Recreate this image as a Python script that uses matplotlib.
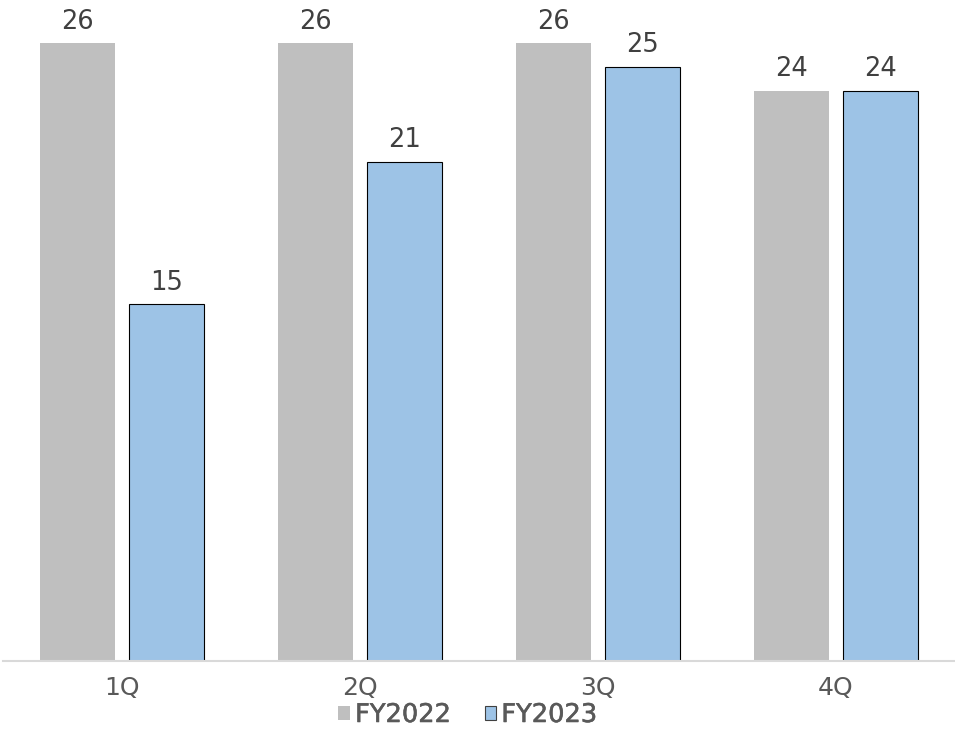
import matplotlib
matplotlib.use("Agg")
from matplotlib import pyplot as plt
from matplotlib.patches import Patch
import matplotlib.patheffects as pe
import numpy as np

quarters = ["1Q", "2Q", "3Q", "4Q"]
fy2022 = [26, 26, 26, 24]
fy2023 = [15, 21, 25, 24]
series_names = ["FY2022", "FY2023"]

plt.rcParams['font.family'] = ['DejaVu Sans']

fig = plt.figure(figsize=(9.55, 7.51), dpi=100)
ax = fig.add_axes([3 / 955, 1 - 661 / 751, 952 / 955, 661 / 751])

x = np.arange(len(quarters))
w = 0.314
off = 0.188
b1 = ax.bar(x - off, fy2022, w, color='#bfbfbf', edgecolor='none')
b2 = ax.bar(x + off, fy2023, w, color='#9dc3e6', edgecolor='black', linewidth=0.8)

for bars in (b1, b2):
    for r in bars:
        ax.annotate(str(int(r.get_height())), (r.get_x() + r.get_width() / 2, r.get_height()),
                    xytext=(0, 6), textcoords='offset points', ha='center', va='bottom',
                    fontsize=18.5, color='#404040')

ax.set_xlim(-0.5, len(quarters) - 0.5)
ax.set_ylim(0, 661 / 23.77)
ax.set_xticks(x)
ax.set_xticklabels(quarters, fontsize=18, color='#595959')
ax.tick_params(axis='x', length=0, pad=11)
ax.set_yticks([])
for s in ('top', 'right', 'left'):
    ax.spines[s].set_visible(False)
ax.spines['bottom'].set_color('#d9d9d9')
ax.spines['bottom'].set_linewidth(1.5)

handles = [Patch(facecolor='#bfbfbf', edgecolor='none'),
           Patch(facecolor='#9dc3e6', edgecolor='#404040', linewidth=0.8)]
leg = fig.legend(handles, series_names, loc='center', bbox_to_anchor=(0.49, 1 - 715 / 751),
                 ncol=2, frameon=False, handlelength=0.45, handleheight=0.45,
                 handletextpad=0.2, columnspacing=1.3, borderpad=0,
                 prop={'size': 18.5}, labelcolor='#595959')
for t in leg.get_texts():
    t.set_path_effects([pe.withStroke(linewidth=0.4, foreground='#595959')])

fig.savefig("out.png", dpi=100)
